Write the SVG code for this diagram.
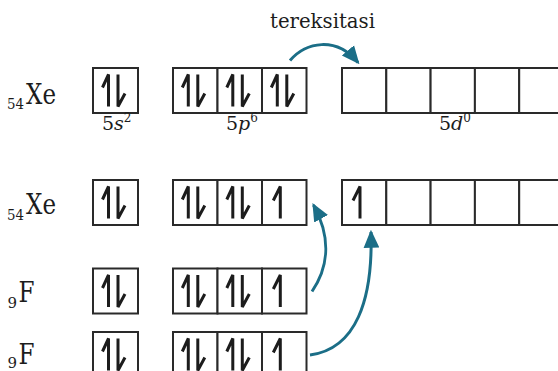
<svg xmlns="http://www.w3.org/2000/svg" xmlns:xlink="http://www.w3.org/1999/xlink" width="558" height="371" viewBox="0 0 558 371">
<style>
.box{fill:#fff;stroke:#2a2a2a;stroke-width:2}
.spin{fill:none;stroke:#1c1c1c;stroke-width:3;stroke-linejoin:miter;stroke-linecap:butt}
.t{font-family:"DejaVu Serif","Liberation Serif",serif;fill:#1c1c1c}
.el{font-size:28px}
.sub{font-size:15px}
.lab{font-size:19px}
.sup{font-size:12px}
.conn{fill:none;stroke:#1b6e87;stroke-width:3}
</style>
<defs>
<g id="pair"><path class="spin" d="M-7,16 V-16 L-13,-3 M2.5,-16 V16 L9.5,3"/></g>
<g id="single"><path class="spin" d="M-4,16 V-16 L-11,-2"/></g>
<marker id="ah" markerUnits="userSpaceOnUse" markerWidth="18" markerHeight="18" viewBox="0 0 16 14" refX="14" refY="7" orient="auto">
<path d="M0,0 L16,7 L0,14 Z" fill="#1b6e87"/>
</marker>
</defs>

<text class="t" x="270" y="28" font-size="20" textLength="105" lengthAdjust="spacingAndGlyphs">tereksitasi</text>

<g id="xe-ground">
<text class="t sub" x="7" y="109" textLength="17" lengthAdjust="spacingAndGlyphs">54</text>
<text class="t el" x="26" y="103.5" textLength="30" lengthAdjust="spacingAndGlyphs">Xe</text>
<rect class="box" x="93" y="68" width="45" height="45"/>
<use xlink:href="#pair" x="115.5" y="90.5"/>
<rect class="box" x="173" y="68" width="44.5" height="45"/>
<rect class="box" x="217.5" y="68" width="44.5" height="45"/>
<rect class="box" x="262" y="68" width="44.5" height="45"/>
<use xlink:href="#pair" x="195.3" y="90.5"/>
<use xlink:href="#pair" x="239.8" y="90.5"/>
<use xlink:href="#pair" x="284.3" y="90.5"/>
<rect class="box" x="342" y="68" width="44.3" height="45"/>
<rect class="box" x="386.3" y="68" width="44.3" height="45"/>
<rect class="box" x="430.6" y="68" width="44.3" height="45"/>
<rect class="box" x="474.9" y="68" width="44.3" height="45"/>
<rect class="box" x="519.2" y="68" width="44.3" height="45"/>
<text class="t lab" x="102" y="130">5<tspan font-style="italic">s</tspan><tspan class="sup" dy="-8">2</tspan></text>
<text class="t lab" x="226" y="130">5<tspan font-style="italic">p</tspan><tspan class="sup" dy="-8">6</tspan></text>
<text class="t lab" x="439" y="130">5<tspan font-style="italic">d</tspan><tspan class="sup" dy="-8">0</tspan></text>
</g>

<g id="xe-excited">
<text class="t sub" x="7" y="219.5" textLength="17" lengthAdjust="spacingAndGlyphs">54</text>
<text class="t el" x="26" y="214" textLength="30" lengthAdjust="spacingAndGlyphs">Xe</text>
<rect class="box" x="93" y="180" width="45" height="45"/>
<use xlink:href="#pair" x="115.5" y="202.5"/>
<rect class="box" x="173" y="180" width="44.5" height="45"/>
<rect class="box" x="217.5" y="180" width="44.5" height="45"/>
<rect class="box" x="262" y="180" width="44.5" height="45"/>
<use xlink:href="#pair" x="195.3" y="202.5"/>
<use xlink:href="#pair" x="239.8" y="202.5"/>
<use xlink:href="#single" x="284.3" y="202.5"/>
<rect class="box" x="342" y="180" width="44.3" height="45"/>
<rect class="box" x="386.3" y="180" width="44.3" height="45"/>
<rect class="box" x="430.6" y="180" width="44.3" height="45"/>
<rect class="box" x="474.9" y="180" width="44.3" height="45"/>
<rect class="box" x="519.2" y="180" width="44.3" height="45"/>
<use xlink:href="#single" x="364" y="202.5"/>
</g>

<g id="f1">
<text class="t sub" x="7.5" y="308">9</text>
<text class="t el" x="18.5" y="302" textLength="16" lengthAdjust="spacingAndGlyphs">F</text>
<rect class="box" x="93" y="268.5" width="45" height="45"/>
<use xlink:href="#pair" x="115.5" y="291"/>
<rect class="box" x="173" y="268.5" width="44.5" height="45"/>
<rect class="box" x="217.5" y="268.5" width="44.5" height="45"/>
<rect class="box" x="262" y="268.5" width="44.5" height="45"/>
<use xlink:href="#pair" x="195.3" y="291"/>
<use xlink:href="#pair" x="239.8" y="291"/>
<use xlink:href="#single" x="284.3" y="291"/>
</g>

<g id="f2">
<text class="t sub" x="7.5" y="367.5">9</text>
<text class="t el" x="18.5" y="364" textLength="16" lengthAdjust="spacingAndGlyphs">F</text>
<rect class="box" x="93" y="332" width="45" height="45"/>
<use xlink:href="#pair" x="115.5" y="354.5"/>
<rect class="box" x="173" y="332" width="44.5" height="45"/>
<rect class="box" x="217.5" y="332" width="44.5" height="45"/>
<rect class="box" x="262" y="332" width="44.5" height="45"/>
<use xlink:href="#pair" x="195.3" y="354.5"/>
<use xlink:href="#pair" x="239.8" y="354.5"/>
<use xlink:href="#single" x="284.3" y="354.5"/>
</g>

<g id="connectors">
<path class="conn" d="M290,60.5 C306,42 336,36 358,62.5" marker-end="url(#ah)"/>
<path class="conn" d="M312,291.5 C330,265 330,235 313.5,205" marker-end="url(#ah)"/>
<path class="conn" d="M310,355 C356,349 373,300 371,232" marker-end="url(#ah)"/>
</g>
</svg>
